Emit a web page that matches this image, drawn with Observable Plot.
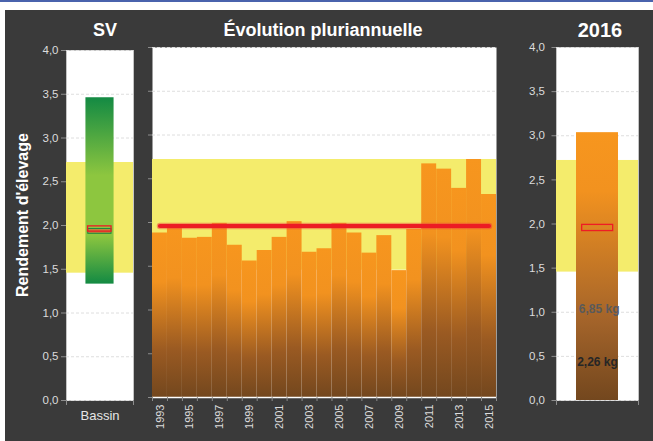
<!DOCTYPE html>
<html>
<head>
<meta charset="utf-8">
<script src="https://cdn.jsdelivr.net/npm/d3@7"></script>
<script src="https://cdn.jsdelivr.net/npm/@observablehq/plot@0.6"></script>
<style>
  body { margin: 0; background: #fff; }
  #wrap { position: relative; width: 653px; height: 441px; overflow: hidden; font-family: "Liberation Sans", Arial, sans-serif; }
  #topline { position: absolute; left: 0; top: 0; width: 653px; height: 2px; background: #4a63ad; }
  #bg { position: absolute; left: 5px; top: 10px; width: 648px; height: 431px; background: #3a3a3a; }
  .panel { position: absolute; left: 0; top: 0; }
  .title { position: absolute; color: #fff; font-weight: bold; white-space: nowrap; line-height: 1; transform: translateX(-50%); }
  #ylabel { position: absolute; width: 240px; text-align: center; color: #fff; font-weight: bold; font-size: 16px; line-height: 16px; white-space: nowrap; transform: rotate(-90deg); }
</style>
</head>
<body>
<div id="wrap">
  <div id="topline"></div>
  <div id="bg"></div>
  <div id="charts"></div>
  <div class="title" style="left:105px; top:20.8px; font-size:18px;">SV</div>
  <div class="title" style="left:323px; top:20.8px; font-size:18px;">Évolution pluriannuelle</div>
  <div class="title" style="left:600px; top:19.8px; font-size:20px;">2016</div>
  <div id="ylabel" style="left:-97px; top:207px;">Rendement d'élevage</div>
</div>
<script>
// ---- data ----
const years = [1993, 1994, 1995, 1996, 1997, 1998, 1999, 2000, 2001, 2002, 2003, 2004,
               2005, 2006, 2007, 2008, 2009, 2010, 2011, 2012, 2013, 2014, 2015];
const yields = [1.88, 1.95, 1.82, 1.83, 1.99, 1.74, 1.56, 1.68, 1.83, 2.01, 1.66, 1.70,
                1.99, 1.88, 1.65, 1.85, 1.45, 1.92, 2.67, 2.61, 2.39, 2.72, 2.32];
const labeledYears = [1993, 1995, 1997, 1999, 2001, 2003, 2005, 2007, 2009, 2011, 2013, 2015];
const averageYield = 1.96;
const referenceBand = [1.455, 2.72];
const basinRange = [1.33, 3.46];
const basinMarkGreen = [1.905, 1.96];
const basinMarkRed = [1.93, 1.99];
const basinCategory = ["Bassin"];
const value2016 = 3.035;
const mark2016 = [1.92, 1.99];
const labels2016 = ["6,85 kg", "2,26 kg"];
const labelValues2016 = [1.03, 0.435];
const yTicks = [0, 0.5, 1, 1.5, 2, 2.5, 3, 3.5, 4];

const series = years.map((year, i) => ({year, value: yields[i]}));
const fmt = d => d.toFixed(1).replace(".", ",");

const charts = document.getElementById("charts");
const baseStyle = {background: "transparent", overflow: "visible", fontFamily: "Liberation Sans, Arial, sans-serif"};
const gridOpts = {ticks: yTicks, stroke: "#dedede", strokeOpacity: 1, strokeDasharray: "3,2"};

function addGradient(svg, id, stops) {
  const defs = d3.select(svg).insert("defs", ":first-child");
  const g = defs.append("linearGradient").attr("id", id)
    .attr("x1", 0).attr("y1", 0).attr("x2", 0).attr("y2", 1);
  stops.forEach(([o, c]) => g.append("stop").attr("offset", o).attr("stop-color", c));
}
function place(svg) {
  svg.classList.add("panel");
  svg.style.position = "absolute";
  svg.style.left = "0px";
  svg.style.top = "0px";
  charts.appendChild(svg);
}

// ---- left panel: SV / Bassin ----
const left = Plot.plot({
  width: 653, height: 441,
  marginLeft: 66, marginRight: 520, marginTop: 50, marginBottom: 41,
  style: baseStyle,
  x: {domain: [0, 1], axis: null},
  y: {domain: [0, 4], axis: null},
  marks: [
    Plot.frame({fill: "white", stroke: "#c4c4c4"}),
    Plot.gridY(gridOpts),
    Plot.rectY([referenceBand], {x1: 0, x2: 1, y1: d => d[0], y2: d => d[1], fill: "#f4ec6c"}),
    Plot.rectY([basinRange], {x1: 0.29, x2: 0.71, y1: d => d[0], y2: d => d[1], fill: "url(#gradGreen)"}),
    Plot.rectY([basinMarkGreen], {x1: 0.325, x2: 0.672, y1: d => d[0], y2: d => d[1], fill: "#c0843c", stroke: "#1e8a3e", strokeWidth: 1}),
    Plot.rectY([basinMarkRed], {x1: 0.322, x2: 0.672, y1: d => d[0], y2: d => d[1], fill: "none", stroke: "#ee1c25", strokeWidth: 1.3}),
    Plot.axisY({ticks: yTicks, tickFormat: fmt, tickSize: 5, tickPadding: 3, stroke: "#8c8c8c", fill: "#dcdcdc", fontSize: 11.5, label: null}),
    Plot.axisX({ticks: [0, 1], tickFormat: () => "", tickSize: 5, stroke: "#8c8c8c", label: null}),
    Plot.axisX({ticks: [0.5], tickFormat: () => basinCategory[0], tickSize: 0, tickPadding: 10, fill: "#e6e6e6", fontSize: 13, label: null})
  ]
});
addGradient(left, "gradGreen", [[0, "#138a43"], [0.42, "#8dc63f"], [0.74, "#8dc63f"], [1, "#138a43"]]);
place(left);

// ---- middle panel: évolution pluriannuelle ----
const boundaries = years.map(y => y - 0.5).concat([years[years.length - 1] + 0.5]);
const middle = Plot.plot({
  width: 653, height: 441,
  marginLeft: 152, marginRight: 157, marginTop: 47, marginBottom: 44,
  style: baseStyle,
  x: {domain: [years[0] - 0.5, years[years.length - 1] + 0.5], axis: null},
  y: {domain: [0, 4], axis: null},
  marks: [
    Plot.frame({fill: "white"}),
    Plot.gridY(gridOpts),
    Plot.rectY([referenceBand], {x1: years[0] - 0.5, x2: years[years.length - 1] + 0.5, y1: d => d[0], y2: d => d[1], fill: "#f4ec6c"}),
    Plot.rectY(series, {x1: d => d.year - 0.5, x2: d => d.year + 0.5, y1: 0, y2: "value", fill: "url(#gradOrange)"}),
    Plot.lineY(series, {x: "year", y: () => averageYield, stroke: "#ee3a3a", strokeOpacity: 0.45, strokeWidth: 6.5, strokeLinecap: "round"}),
    Plot.lineY(series, {x: "year", y: () => averageYield, stroke: "#ec1c24", strokeWidth: 4.2, strokeLinecap: "round"}),
    Plot.ruleY([0], {stroke: "#ffffff", strokeWidth: 1.5}),
    Plot.axisY({ticks: yTicks, tickFormat: () => "", tickSize: 4, stroke: "#8c8c8c", label: null}),
    Plot.axisX({ticks: boundaries, tickFormat: () => "", tickSize: 4, stroke: "#8c8c8c", label: null}),
    Plot.axisX({ticks: labeledYears, tickFormat: d => String(d), tickSize: 0, tickPadding: 7, tickRotate: -90, fill: "#dcdcdc", fontSize: 11, label: null})
  ]
});
addGradient(middle, "gradOrange", [[0, "#f7961e"], [0.3, "#f2921f"], [0.72, "#9a5a22"], [1, "#73471e"]]);
place(middle);

// ---- right panel: 2016 ----
const right = Plot.plot({
  width: 653, height: 441,
  marginLeft: 556, marginRight: 15, marginTop: 47, marginBottom: 41,
  style: baseStyle,
  x: {domain: [0, 1], axis: null},
  y: {domain: [0, 4], axis: null},
  marks: [
    Plot.frame({fill: "white", stroke: "#c4c4c4"}),
    Plot.gridY(gridOpts),
    Plot.rectY([referenceBand], {x1: 0, x2: 1, y1: d => d[0], y2: d => d[1], fill: "#f4ec6c"}),
    Plot.rectY([value2016], {x1: 0.244, x2: 0.756, y1: 0, y2: d => d, fill: "url(#gradOrange2)"}),
    Plot.rectY([mark2016], {x1: 0.313, x2: 0.691, y1: d => d[0], y2: d => d[1], fill: "none", stroke: "#ee1c25", strokeWidth: 1.3}),
    Plot.text([labels2016[0]], {x: 0.52, y: () => labelValues2016[0], text: d => d, fill: "#5a5a5a", fontWeight: "bold", fontSize: 12}),
    Plot.text([labels2016[1]], {x: 0.5, y: () => labelValues2016[1], text: d => d, fill: "#262626", fontWeight: "bold", fontSize: 12}),
    Plot.axisY({ticks: yTicks, tickFormat: fmt, tickSize: 4.5, tickPadding: 7, stroke: "#8c8c8c", fill: "#dcdcdc", fontSize: 11.5, label: null}),
    Plot.axisX({ticks: [0, 1], tickFormat: () => "", tickSize: 5, stroke: "#8c8c8c", label: null})
  ]
});
addGradient(right, "gradOrange2", [[0, "#f7961e"], [0.22, "#f2921f"], [0.7, "#a4642a"], [1, "#73471e"]]);
place(right);
</script>
</body>
</html>
